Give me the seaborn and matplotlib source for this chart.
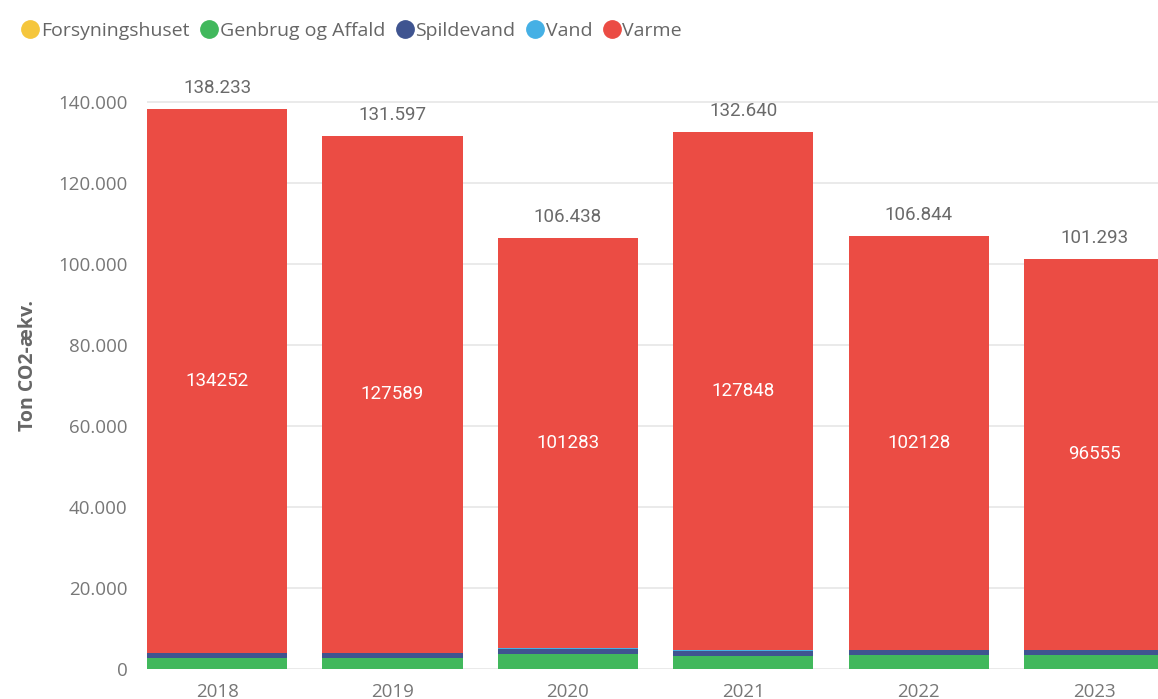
import numpy as np
import pandas as pd
import matplotlib
matplotlib.use("Agg")
import matplotlib.pyplot as plt
from matplotlib.lines import Line2D
import seaborn as sns

# Emissions per utility area, tonnes CO2-equivalent
years = ["2018", "2019", "2020", "2021", "2022", "2023"]
forsyningshuset = [30, 30, 35, 40, 36, 48]
genbrug_affald = [2700, 2720, 3600, 3250, 3350, 3350]
spildevand = [1170, 1180, 1420, 1250, 1250, 1250]
vand = [81, 78, 100, 252, 80, 90]
varme = [134252, 127589, 101283, 127848, 102128, 96555]

series_names = ["Forsyningshuset", "Genbrug og Affald", "Spildevand", "Vand", "Varme"]
series_values = [forsyningshuset, genbrug_affald, spildevand, vand, varme]
series_colors = ["#F5C63C", "#41B85C", "#3F5490", "#45B0E5", "#EB4C44"]

def dk(v):
    return f"{int(round(v)):,}".replace(",", ".")

df = pd.DataFrame({"year": years})
for name, vals in zip(series_names, series_values):
    df[name] = vals
cum = df[series_names].cumsum(axis=1)
df["total"] = cum[series_names[-1]]

sns.set_theme(style="white")
plt.rcParams["font.family"] = ["Open Sans", "DejaVu Sans"]

fig = plt.figure(figsize=(11.58, 6.99), dpi=100)
W, H = 1158, 699
ax_left, ax_bottom = 147, 669
ymax = 150000
px_per_unit = (669 - 102) / 140000
ax_h = ymax * px_per_unit
ax = fig.add_axes([ax_left / W, (H - ax_bottom) / H, (W - ax_left) / W, ax_h / H])

# stacked bars: draw cumulative heights from the top series down
for name, color in reversed(list(zip(series_names, series_colors))):
    sns.barplot(x=df["year"], y=cum[name], color=color, width=0.8,
                linewidth=0, saturation=1, ax=ax, order=years, zorder=3)

ax.set_xlim(-0.4, 5 + 64 / 175.5)
ax.set_ylim(0, ymax)
ax.set_yticks(np.arange(0, 140001, 20000))
ax.set_yticklabels([dk(t) for t in np.arange(0, 140001, 20000)])
ax.yaxis.grid(True, color="#E6E6E6", linewidth=1.2, zorder=0)
ax.set_axisbelow(True)
for s in ax.spines.values():
    s.set_visible(False)
ax.tick_params(axis="y", length=0, pad=14, labelsize=13.5, labelcolor="#777777")
ax.tick_params(axis="x", length=0, pad=10, labelsize=13.5, labelcolor="#777777")
ax.set_xlabel("")
ax.set_ylabel("Ton CO2-ækv.", fontsize=14, fontweight="bold", color="#666666")
ax.yaxis.set_label_coords((38 - ax_left) / (W - ax_left), 0.5)

# total labels above each bar and Varme value inside the red segment
for i, row in df.iterrows():
    ax.annotate(dk(row["total"]), (i, row["total"]), xytext=(0, 15), textcoords="offset points",
                ha="center", va="center", fontsize=13.5, color="#6A6A6A",
                family=["Roboto", "DejaVu Sans"])
    base = row["total"] - row["Varme"]
    ax.text(i, base + row["Varme"] / 2, str(row["Varme"]),
            ha="center", va="center", fontsize=13.5, color="white",
            family=["Roboto", "DejaVu Sans"])

handles = [Line2D([0], [0], marker="o", linestyle="", markersize=12.5,
                  markerfacecolor=c, markeredgecolor=c) for c in series_colors]
fig.legend(handles, series_names, loc="center left", bbox_to_anchor=(12 / W, 1 - 31 / H),
           ncol=5, frameon=False, handletextpad=0.0, columnspacing=0.45,
           fontsize=14, labelcolor="#666666", handlelength=1.1, borderaxespad=0)

fig.savefig("out.png", dpi=100)
